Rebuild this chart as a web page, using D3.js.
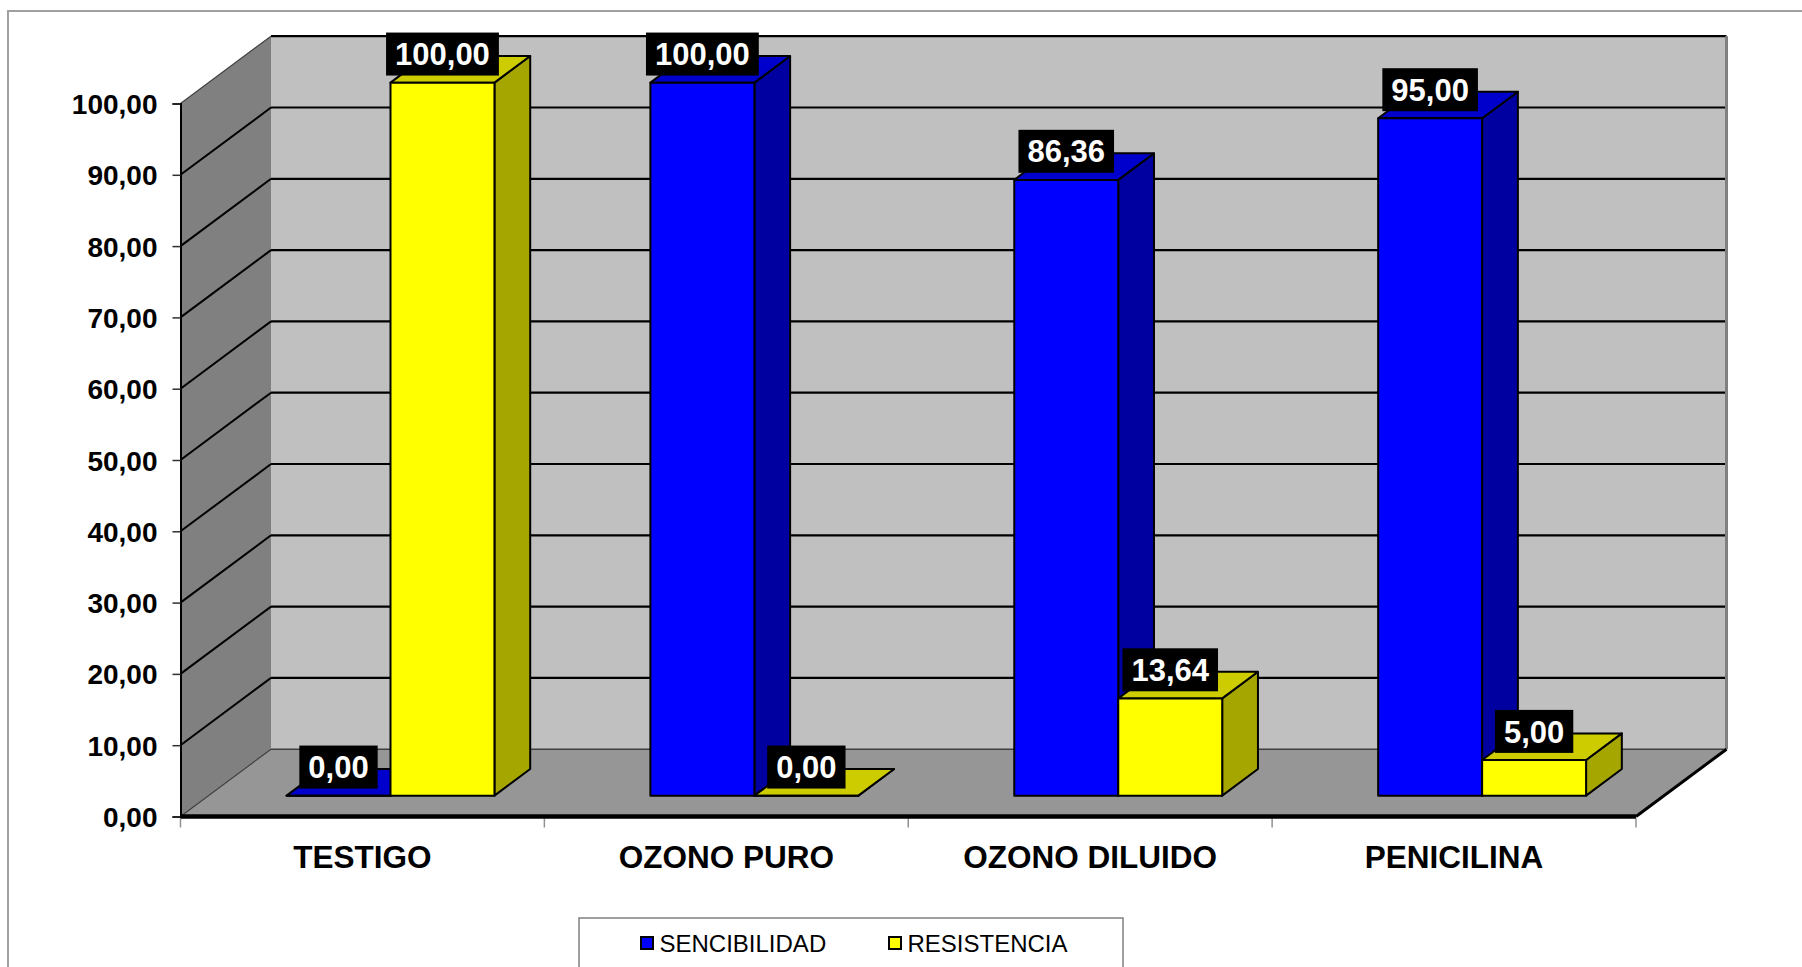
<!DOCTYPE html>
<html>
<head>
<meta charset="utf-8">
<script src="https://cdn.jsdelivr.net/npm/d3@7/dist/d3.min.js"></script>
<style>
  html, body { margin: 0; padding: 0; background: #ffffff; }
  svg { display: block; font-family: "Liberation Sans", Arial, sans-serif; }
</style>
</head>
<body>
<svg id="chart" width="1802" height="967"></svg>
<script>
// Susceptibility results per treatment (percent)
const categories = ["TESTIGO", "OZONO PURO", "OZONO DILUIDO", "PENICILINA"];
const sencibilidad = [0.00, 100.00, 86.36, 95.00];
const resistencia = [100.00, 0.00, 13.64, 5.00];
const seriesNames = ["SENCIBILIDAD", "RESISTENCIA"];
const yTicks = [0, 10, 20, 30, 40, 50, 60, 70, 80, 90, 100];

const seriesValues = [sencibilidad, resistencia];
const palette = [
  { front: "#0000FF", top: "#0000CC", side: "#0000A0" },
  { front: "#FFFF00", top: "#CCCC00", side: "#A6A600" }
];

const svg = d3.select("#chart");
const fmt = v => d3.format(".2f")(v).replace(".", ",");

// Front plane scales plus an oblique depth vector for the 3-D look
const x = d3.scaleBand().domain(categories).range([180.5, 1636]);
const y = d3.scaleLinear().domain([0, 100]).range([816.5, 103.5]);
const DX = 90.5, DY = -67.3;
const D0 = 0.31, D1 = 0.705;   // bar depth span inside the floor
const P = (px, v, d) => [px + d * DX, y(v) + d * DY];
const backRight = x.range()[1] + DX;

// Outer chart frame
svg.append("rect")
  .attr("x", 8).attr("y", 11).attr("width", 1810).attr("height", 980)
  .attr("fill", "#ffffff").attr("stroke", "#a0a0a0").attr("stroke-width", 2);

// Walls and floor
const poly = pts => pts.map(p => p.join(",")).join(" ");
const x0 = x.range()[0], x1 = x.range()[1];
svg.append("polygon")
  .attr("points", poly([P(x0, 100, 0), P(x0, 100, 1), P(x0, 0, 1), P(x0, 0, 0)]))
  .attr("fill", "#808080");
svg.append("polygon")
  .attr("points", poly([P(x0, 100, 1), P(x1, 100, 1), P(x1, 0, 1), P(x0, 0, 1)]))
  .attr("fill", "#C0C0C0");
svg.append("polygon")
  .attr("points", poly([P(x0, 0, 0), P(x0, 0, 1), P(x1, 0, 1), P(x1, 0, 0)]))
  .attr("fill", "#969696");

// Gridlines on back wall and side wall
const grid = svg.append("g");
yTicks.forEach(v => {
  const strong = v > 0;
  const bl = P(x0, v, 1), br = P(x1, v, 1), fl = P(x0, v, 0);
  grid.append("line")
    .attr("x1", bl[0]).attr("y1", bl[1]).attr("x2", br[0]).attr("y2", br[1])
    .attr("stroke", strong ? "#000" : "#404040").attr("stroke-width", strong ? 2.2 : 1.5);
  const sideStrong = v > 0 && v < 100;
  grid.append("line")
    .attr("x1", fl[0]).attr("y1", fl[1]).attr("x2", bl[0]).attr("y2", bl[1])
    .attr("stroke", sideStrong ? "#000" : "#404040").attr("stroke-width", sideStrong ? 2 : 1.2);
});
// Back wall right edge
svg.append("line")
  .attr("x1", backRight).attr("y1", y(100) + DY).attr("x2", backRight).attr("y2", y(0) + DY)
  .attr("stroke", "#808080").attr("stroke-width", 3);

// Value axis
const yAxis = svg.append("g").attr("transform", `translate(${x0},0)`)
  .call(d3.axisLeft(y).tickValues(yTicks).tickSize(8).tickPadding(15).tickFormat(fmt));
yAxis.select(".domain").attr("stroke", "#000").attr("stroke-width", 2);
yAxis.selectAll(".tick line").attr("stroke", "#303030").attr("stroke-width", 1.5);
yAxis.selectAll(".tick text")
  .attr("font-size", 28).attr("font-weight", "bold").attr("fill", "#000")
  .attr("font-family", "'Liberation Sans', Arial, sans-serif").attr("dy", "0.36em");

// Category axis (front floor edge)
const xAxis = svg.append("g").attr("transform", `translate(0,${y(0)})`)
  .call(d3.axisBottom(x).tickSize(0).tickPadding(40));
xAxis.select(".domain").remove();
xAxis.selectAll(".tick text")
  .attr("font-size", 31.5).attr("font-weight", "bold").attr("fill", "#000")
  .attr("font-family", "'Liberation Sans', Arial, sans-serif").attr("dy", "0.36em");
const bounds = categories.map(c => x(c)).concat([x1]);
svg.append("g").selectAll("line").data(bounds).join("line")
  .attr("x1", d => d).attr("x2", d => d)
  .attr("y1", y(0) + 2).attr("y2", y(0) + 11)
  .attr("stroke", "#909090").attr("stroke-width", 1.5);
svg.append("line")
  .attr("x1", x0).attr("y1", y(0)).attr("x2", x1).attr("y2", y(0))
  .attr("stroke", "#000").attr("stroke-width", 4.5);
const fr = P(x1, 0, 0), brc = P(x1, 0, 1);
svg.append("line")
  .attr("x1", fr[0]).attr("y1", fr[1]).attr("x2", brc[0]).attr("y2", brc[1])
  .attr("stroke", "#000").attr("stroke-width", 3);

// Bars
const bw = x.bandwidth() / 3.5;
const barLeft = (ci, si) => x(categories[ci]) + 0.75 * bw + si * bw;
const bars = svg.append("g");
const labels = [];
categories.forEach((c, ci) => {
  seriesValues.forEach((vals, si) => {
    const v = vals[ci];
    const l = barLeft(ci, si), r = l + bw;
    const col = palette[si];
    const ftl = P(l, v, D0), ftr = P(r, v, D0), fbr = P(r, 0, D0), fbl = P(l, 0, D0);
    const btl = P(l, v, D1), btr = P(r, v, D1), bbr = P(r, 0, D1);
    const g = bars.append("g")
      .attr("stroke", "#000").attr("stroke-width", 2).attr("stroke-linejoin", "round");
    g.append("polygon").attr("points", poly([ftr, btr, bbr, fbr])).attr("fill", col.side);
    g.append("polygon").attr("points", poly([ftl, ftr, btr, btl])).attr("fill", col.top);
    g.append("polygon").attr("points", poly([ftl, ftr, fbr, fbl])).attr("fill", col.front);
    labels.push({ cx: (ftl[0] + ftr[0]) / 2, cy: btl[1] - 2, text: fmt(v) });
  });
});

// Data labels: white bold text on black boxes
const lg = svg.append("g");
labels.forEach(d => {
  const g = lg.append("g");
  const rect = g.append("rect").attr("fill", "#000");
  const t = g.append("text")
    .attr("x", d.cx).attr("y", d.cy).attr("dy", "0.36em")
    .attr("text-anchor", "middle")
    .attr("font-size", 31).attr("font-weight", "bold").attr("fill", "#fff")
    .text(d.text);
  const w = t.node().getComputedTextLength() + 18;
  rect.attr("x", d.cx - w / 2).attr("y", d.cy - 21.5).attr("width", w).attr("height", 43);
});

// Legend
const legend = svg.append("g");
legend.append("rect")
  .attr("x", 579).attr("y", 918).attr("width", 544).attr("height", 80)
  .attr("fill", "#fff").attr("stroke", "#808080").attr("stroke-width", 1.5);
const legendX = [641, 889];
seriesNames.forEach((name, i) => {
  legend.append("rect")
    .attr("x", legendX[i]).attr("y", 937).attr("width", 12).attr("height", 12)
    .attr("fill", palette[i].front).attr("stroke", "#000").attr("stroke-width", 2);
  legend.append("text")
    .attr("x", legendX[i] + 18.5).attr("y", 943.5).attr("dy", "0.36em")
    .attr("font-size", 24).attr("fill", "#000")
    .text(name);
});
</script>
</body>
</html>
